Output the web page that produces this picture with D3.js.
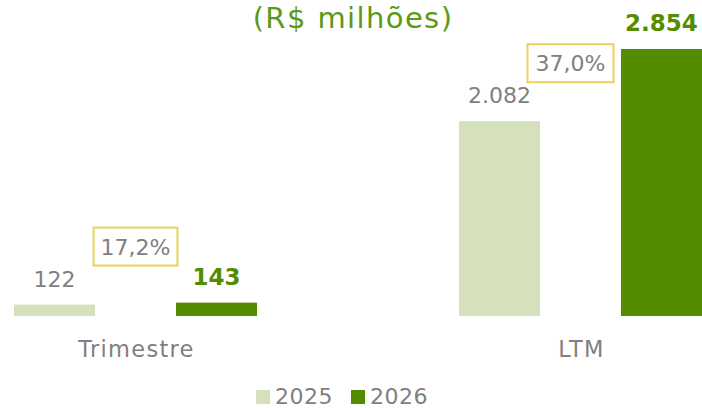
<!DOCTYPE html>
<html lang="pt">
<head>
<meta charset="utf-8">
<title>R$ milhões - Trimestre / LTM</title>
<script src="https://cdn.jsdelivr.net/npm/d3@7"></script>
<style>
body { margin: 0; background: #fff; }
svg text { font-family: "DejaVu Sans", sans-serif; }
</style>
</head>
<body>
<div id="chart"></div>
<script>

var categories = ["Trimestre", "LTM"];
var series = ["2025", "2026"];
var values2025 = [122, 2082];
var values2026 = [143, 2854];
var valueLabels2025 = ["122", "2.082"];
var valueLabels2026 = ["143", "2.854"];
var growthLabels = ["17,2%", "37,0%"];

var colors = { "2025": "#d5e0bd", "2026": "#548c00" };
var gray = "#808080";

var width = 702, height = 408;
var baseline = 316;

var svg = d3.select("#chart").append("svg")
    .attr("width", width)
    .attr("height", height);

var x0 = d3.scaleBand()
    .domain(categories)
    .range([14, 702])
    .paddingInner(0.4539)
    .paddingOuter(0);

var x1 = d3.scaleBand()
    .domain(series)
    .range([0, x0.bandwidth()])
    .paddingInner(0.5)
    .paddingOuter(0);

var y = d3.scaleLinear()
    .domain([0, d3.max(values2026)])
    .range([baseline, 49]);

var rows = categories.map(function(c, i) {
    return {
        cat: c,
        bars: [
            { key: "2025", value: values2025[i], label: valueLabels2025[i] },
            { key: "2026", value: values2026[i], label: valueLabels2026[i] }
        ],
        growth: growthLabels[i]
    };
});

// title
svg.append("text")
    .attr("x", 353)
    .attr("y", 28)
    .attr("text-anchor", "middle")
    .attr("font-size", 29)
    .attr("letter-spacing", "1.4px")
    .attr("fill", "#5b9a14")
    .text("(R$ milhões)");

var group = svg.selectAll(".group")
    .data(rows)
    .enter().append("g")
        .attr("class", "group")
        .attr("transform", function(d) { return "translate(" + x0(d.cat) + ",0)"; });

group.selectAll("rect")
    .data(function(d) { return d.bars; })
    .enter().append("rect")
        .attr("x", function(d) { return x1(d.key); })
        .attr("width", x1.bandwidth())
        .attr("y", function(d) { return y(d.value); })
        .attr("height", function(d) { return baseline - y(d.value); })
        .attr("fill", function(d) { return colors[d.key]; });

group.selectAll(".value")
    .data(function(d) { return d.bars; })
    .enter().append("text")
        .attr("class", "value")
        .attr("x", function(d) { return x1(d.key) + x1.bandwidth() / 2; })
        .attr("y", function(d) { return y(d.value) - 18; })
        .attr("text-anchor", "middle")
        .attr("font-size", function(d) { return d.key == "2026" ? 23 : 22; })
        .attr("font-weight", function(d) { return d.key == "2026" ? "bold" : "normal"; })
        .attr("fill", function(d) { return d.key == "2026" ? colors["2026"] : gray; })
        .text(function(d) { return d.label; });

// growth boxes, sitting above the 2025 label, centered in the gap
group.each(function(d, i) {
    var g = d3.select(this);
    var cx = (x1("2025") + x1.bandwidth() + x1("2026")) / 2 - (i == 1 ? 10 : 0);
    var bottom = y(d.bars[0].value) - 39;
    var t = g.append("text")
        .attr("x", cx)
        .attr("y", bottom - 11)
        .attr("text-anchor", "middle")
        .attr("font-size", 22)
        .attr("fill", gray)
        .text(d.growth);
    var w = Math.max(78, t.node().getComputedTextLength() + 14);
    if (i == 1) w = 86;
    g.insert("rect", "text")
        .attr("x", cx - w / 2)
        .attr("y", bottom - 38)
        .attr("width", w)
        .attr("height", 38)
        .attr("fill", "none")
        .attr("stroke", "#ecd05a")
        .attr("stroke-width", 2);
});

// category labels
svg.selectAll(".cat")
    .data(categories)
    .enter().append("text")
        .attr("class", "cat")
        .attr("x", function(d) { return x0(d) + x0.bandwidth() / 2 + 1; })
        .attr("y", 357)
        .attr("text-anchor", "middle")
        .attr("font-size", 22.5)
        .attr("letter-spacing", "1.3px")
        .attr("fill", gray)
        .text(function(d) { return d; });

// legend
var legendX = d3.scalePoint().domain(series).range([256, 351]);

var legend = svg.selectAll(".legend")
    .data(series)
    .enter().append("g")
        .attr("class", "legend")
        .attr("transform", function(d) { return "translate(" + legendX(d) + ",390)"; });

legend.append("rect")
    .attr("width", 14)
    .attr("height", 14)
    .attr("fill", function(d) { return colors[d]; });

legend.append("text")
    .attr("x", 19)
    .attr("y", 13.5)
    .attr("font-size", 22)
    .attr("letter-spacing", "0.5px")
    .attr("fill", gray)
    .text(function(d) { return d; });

</script>
</body>
</html>
